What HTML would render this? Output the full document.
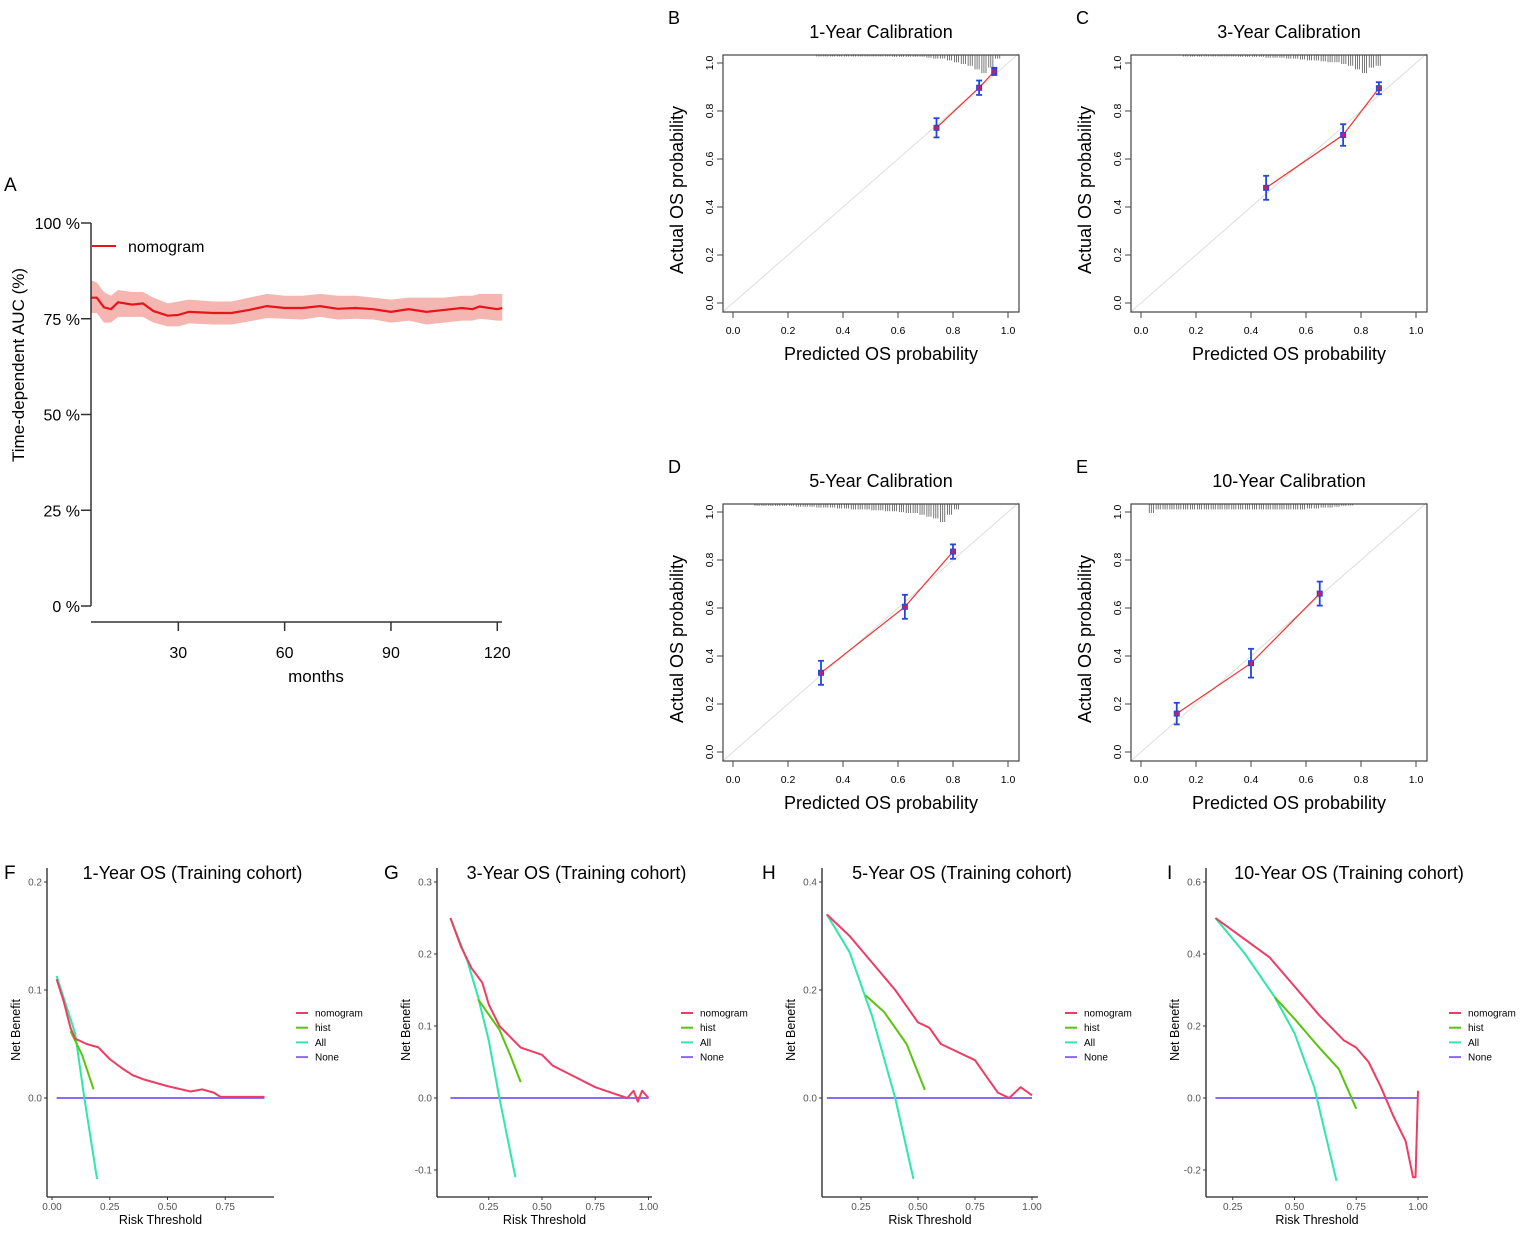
<!DOCTYPE html>
<html><head><meta charset="utf-8"><style>
body{margin:0;background:#fff;}
svg{display:block;font-family:"Liberation Sans",sans-serif;}
</style></head><body>
<svg id="fig" width="1535" height="1237" viewBox="0 0 1535 1237" xmlns="http://www.w3.org/2000/svg">
<rect width="1535" height="1237" fill="#fff"/>
</svg>
<script>
// ---------- Panel A data ----------
const aucMonths=[5.4,7,9,11,13,17,20,23,27,30,33,40,45,50,55,60,65,70,75,80,85,90,95,100,105,110,113,115,120,121.4];
const aucValues=[80.5,80.5,78,77.5,79.3,78.7,79,77,75.8,76,76.8,76.5,76.5,77.3,78.3,77.8,77.8,78.3,77.6,77.8,77.5,76.8,77.5,76.8,77.3,77.8,77.5,78.2,77.5,77.8];
const aucUpper=[85,84.5,82,81,82.5,82,82,80.5,79,79.5,80,79.5,79.5,80.5,81.5,81,81,81.5,81,81,80.5,80,80.5,80.5,80.5,81,81,81.5,81.5,81.5];
const aucLower=[76.5,76.5,74,74,75.5,75.5,75.5,74,73,73,73.8,73.5,73.5,74.3,75.2,75,74.8,75.5,74.8,75,74.8,74,74.5,73.5,74,74.5,74.5,75,74.5,74.5];
const aucYTicks=[0,25,50,75,100];
const aucXTicks=[30,60,90,120];

// ---------- Calibration data ----------
const calPred={B:[0.74,0.895,0.95],C:[0.455,0.735,0.865],D:[0.32,0.625,0.80],E:[0.13,0.40,0.65]};
const calObs={B:[0.73,0.897,0.965],C:[0.48,0.70,0.895],D:[0.33,0.605,0.835],E:[0.16,0.37,0.66]};
const calErr={B:[0.04,0.03,0.015],C:[0.05,0.045,0.025],D:[0.05,0.05,0.03],E:[0.045,0.06,0.05]};
const calTitles={B:"1-Year Calibration",C:"3-Year Calibration",D:"5-Year Calibration",E:"10-Year Calibration"};
const rugB=[0,0,0,0,0,0,0,0,0,0,0,0,0.05,0.05,0.05,0.05,0.05,0.05,0.05,0.05,0.05,0.05,0.05,0.1,0.1,0.1,0.1,0.1,0.15,0.2,0.2,0.3,0.4,0.5,0.6,0.8,1,0.7,0.2,0];
const rugC=[0,0,0,0,0,0,0.05,0.05,0.05,0.05,0.05,0.05,0.05,0.05,0.1,0.1,0.1,0.1,0.15,0.15,0.15,0.2,0.2,0.25,0.3,0.3,0.35,0.4,0.4,0.5,0.6,0.8,1,0.7,0.6,0,0,0,0,0];
const rugD=[0,0,0,0.1,0.1,0.1,0.1,0.1,0.1,0.15,0.15,0.15,0.2,0.2,0.2,0.25,0.25,0.3,0.3,0.3,0.35,0.35,0.4,0.4,0.45,0.5,0.5,0.6,0.7,0.8,1,0.6,0.3,0,0,0,0,0,0,0];
const rugE=[0,0.5,0.3,0.3,0.3,0.3,0.3,0.3,0.3,0.3,0.3,0.3,0.3,0.3,0.3,0.3,0.3,0.3,0.3,0.3,0.3,0.3,0.3,0.3,0.25,0.25,0.2,0.2,0.15,0.1,0.05,0,0,0,0,0,0,0,0,0];
const calTicks=[0,0.2,0.4,0.6,0.8,1.0];

// ---------- DCA data ----------
const dcaF={nom:[[0.02,0.11],[0.05,0.09],[0.08,0.065],[0.1,0.055],[0.15,0.05],[0.2,0.047],[0.25,0.036],[0.3,0.028],[0.35,0.021],[0.4,0.017],[0.5,0.011],[0.6,0.006],[0.65,0.008],[0.7,0.005],[0.73,0.001],[0.92,0.001]],
 hist:[[0.08,0.062],[0.13,0.04],[0.18,0.008]],all:[[0.02,0.113],[0.1,0.06],[0.14,0],[0.195,-0.075]],none:[[0.02,0],[0.92,0]]};
const dcaG={nom:[[0.07,0.25],[0.12,0.21],[0.17,0.18],[0.22,0.16],[0.25,0.13],[0.3,0.1],[0.35,0.085],[0.4,0.07],[0.5,0.06],[0.55,0.045],[0.65,0.03],[0.75,0.015],[0.85,0.005],[0.9,0],[0.93,0.01],[0.95,-0.005],[0.97,0.01],[1.0,0]],
 hist:[[0.2,0.137],[0.3,0.095],[0.35,0.06],[0.4,0.022]],all:[[0.07,0.25],[0.15,0.19],[0.2,0.14],[0.25,0.08],[0.3,0],[0.375,-0.11]],none:[[0.07,0],[1.0,0]]};
const dcaH={nom:[[0.1,0.34],[0.2,0.3],[0.3,0.25],[0.4,0.2],[0.45,0.17],[0.5,0.14],[0.55,0.13],[0.6,0.1],[0.65,0.09],[0.7,0.08],[0.75,0.07],[0.8,0.04],[0.85,0.01],[0.9,0],[0.95,0.02],[1.0,0.005]],
 hist:[[0.27,0.19],[0.35,0.16],[0.45,0.1],[0.53,0.015]],all:[[0.1,0.34],[0.2,0.27],[0.3,0.15],[0.4,0],[0.48,-0.15]],none:[[0.1,0],[1.0,0]]};
const dcaI={nom:[[0.18,0.5],[0.3,0.44],[0.4,0.39],[0.5,0.31],[0.6,0.23],[0.7,0.16],[0.75,0.14],[0.8,0.1],[0.85,0.03],[0.9,-0.05],[0.95,-0.12],[0.98,-0.22],[0.99,-0.22],[1.0,0.02]],
 hist:[[0.42,0.28],[0.5,0.22],[0.6,0.14],[0.68,0.08],[0.75,-0.03]],all:[[0.18,0.5],[0.3,0.4],[0.42,0.28],[0.5,0.18],[0.58,0.03],[0.67,-0.23]],none:[[0.18,0],[1.0,0]]};
const dcaTitles=["1-Year OS (Training cohort)","3-Year OS (Training cohort)","5-Year OS (Training cohort)","10-Year OS (Training cohort)"];
const dcaYTicksF=[0,0.1,0.2], dcaYTicksG=[-0.1,0,0.1,0.2,0.3], dcaYTicksH=[0,0.2,0.4], dcaYTicksI=[-0.2,0,0.2,0.4,0.6];
const dcaXTicksF=[0,0.25,0.5,0.75], dcaXTicksOther=[0.25,0.5,0.75,1.0];
const legendLabels=["nomogram","hist","All","None"];

const NS="http://www.w3.org/2000/svg";
const fig=document.getElementById('fig');
function mk(tag,attrs,parent,text){const e=document.createElementNS(NS,tag);for(const k in attrs)e.setAttribute(k,attrs[k]);if(text!==undefined)e.textContent=text;(parent||fig).appendChild(e);return e;}
function fmt(v,d){return v.toFixed(d);}

// ---------- Panel A ----------
(function(){
 const g=mk('g',{});
 
 
 const X=m=>72+(m)*3.544, Y=v=>606-(v/100)*383;
 let t=mk('text',{x:4,y:191,'font-size':19},g,'A');
 
 let band='M';aucMonths.forEach((m,i)=>band+=(i?'L':'')+X(m)+','+Y(aucUpper[i]));
 for(let i=aucMonths.length-1;i>=0;i--)band+='L'+X(aucMonths[i])+','+Y(aucLower[i]);
 const b=mk('path',{d:band+'Z',fill:'#f5b5b0',stroke:'none'},g);
 
 const ln=mk('polyline',{points:aucMonths.map((m,i)=>X(m)+','+Y(aucValues[i])).join(' '),fill:'none',stroke:'#e8141b','stroke-width':2.2},g);
 
 mk('line',{x1:91,y1:Y(100),x2:91,y2:Y(0),stroke:'#333','stroke-width':1.5},g);
 aucYTicks.forEach(v=>{mk('line',{x1:81,y1:Y(v),x2:91,y2:Y(v),stroke:'#333','stroke-width':1.5},g);
  const tt=mk('text',{x:80,y:Y(v)+6,'font-size':16,'text-anchor':'end'},g,v+' %');
  });
 mk('line',{x1:91,y1:622,x2:502,y2:622,stroke:'#333','stroke-width':1.5},g);
 aucXTicks.forEach(v=>{mk('line',{x1:X(v),y1:622,x2:X(v),y2:631,stroke:'#333','stroke-width':1.5},g);
  const tt=mk('text',{x:X(v),y:658,'font-size':16,'text-anchor':'middle'},g,v);
  });
 t=mk('text',{x:316,y:682,'font-size':17,'text-anchor':'middle'},g,'months');
 
 t=mk('text',{x:0,y:0,'font-size':17,'text-anchor':'middle',transform:'translate(24,365) rotate(-90)'},g,'Time-dependent AUC (%)');
 
 mk('line',{x1:92,y1:246,x2:116,y2:246,stroke:'#e8141b','stroke-width':2},g);
 t=mk('text',{x:128,y:252,'font-size':16},g,'nomogram');
 
})();

// ---------- Calibration panels ----------
function calPanel(key,ox,oy,rug){
 const g=mk('g',{});
 
 
 const X=v=>ox+v*275, Y=v=>oy+303-v*240;
 const L=ox-10,R=ox+286,T=oy+55,B=oy+312;
 let t=mk('text',{x:ox-65,y:oy+24,'font-size':18},g,key);
 
 t=mk('text',{x:ox+148,y:oy+38,'font-size':18,'text-anchor':'middle'},g,calTitles[key]);
 
 mk('line',{x1:X(-0.04),y1:Y(-0.04),x2:X(1.04),y2:Y(1.04),stroke:'#ddd','stroke-width':1},g);
 rug.forEach((h,i)=>{if(h<=0)return;
  [0.2,0.5,0.8].forEach(f=>{const x=X((i+f)/40);
   mk('line',{x1:x,y1:T,x2:x,y2:T+Math.max(1.5,h*18),stroke:'#555','stroke-width':0.8},g);});});
 const p=calPred[key],o=calObs[key],e=calErr[key];
 const pl=mk('polyline',{points:p.map((v,i)=>X(v)+','+Y(o[i])).join(' '),fill:'none',stroke:'#e33','stroke-width':1.2},g);
 
 p.forEach((v,i)=>{const x=X(v);
  mk('line',{x1:x,y1:Y(o[i]-e[i]),x2:x,y2:Y(o[i]+e[i]),stroke:'#2646d8','stroke-width':1.8},g);
  mk('line',{x1:x-3,y1:Y(o[i]-e[i]),x2:x+3,y2:Y(o[i]-e[i]),stroke:'#2646d8','stroke-width':1.8},g);
  mk('line',{x1:x-3,y1:Y(o[i]+e[i]),x2:x+3,y2:Y(o[i]+e[i]),stroke:'#2646d8','stroke-width':1.8},g);
  const c=mk('rect',{x:x-2.5,y:Y(o[i])-2.5,width:5,height:5,fill:'#c0206a',stroke:'#2646d8','stroke-width':1},g);
  });
 mk('rect',{x:L,y:T,width:R-L,height:B-T,fill:'none',stroke:'#444','stroke-width':1.2},g);
 calTicks.forEach(v=>{
  mk('line',{x1:X(v),y1:B,x2:X(v),y2:B+6,stroke:'#444','stroke-width':1},g);
  let tt=mk('text',{x:X(v),y:B+22,'font-size':10.5,'text-anchor':'middle'},g,fmt(v,1));
  
  mk('line',{x1:L,y1:Y(v),x2:L-6,y2:Y(v),stroke:'#444','stroke-width':1},g);
  tt=mk('text',{x:0,y:0,'font-size':10.5,'text-anchor':'middle',transform:'translate('+(L-10)+','+Y(v)+') rotate(-90)'},g,fmt(v,1));
  });
 t=mk('text',{x:ox+148,y:oy+360,'font-size':18,'text-anchor':'middle'},g,'Predicted OS probability');
 
 t=mk('text',{x:0,y:0,'font-size':18,'text-anchor':'middle',transform:'translate('+(ox-50)+','+(oy+190)+') rotate(-90)'},g,'Actual OS probability');
 
}
calPanel('B',733,0,rugB);
calPanel('C',1141,0,rugC);
calPanel('D',733,449,rugD);
calPanel('E',1141,449,rugE);

// ---------- DCA panels ----------
const cols={nom:'#ee3d64',hist:'#5ac40e',all:'#2de8a8',none:'#8a6cf0'};
function dcaPanel(letter,title,data,axX,x0,xs,xmax,y0,ys,yticks,xticks,legX,labX){
 const g=mk('g',{});
 
 
 const X=v=>x0+v*xs, Y=v=>1098-v*ys;
 let t=mk('text',{x:labX,y:879,'font-size':19},g,letter);
 
 t=mk('text',{x:(axX+xmax)/2+32,y:879,'font-size':18,'text-anchor':'middle'},g,title);
 
 ['none','all','hist','nom'].forEach(k=>{
  const pl=mk('polyline',{points:data[k].map(p=>X(p[0])+','+Y(p[1])).join(' '),fill:'none',stroke:cols[k],'stroke-width':2,'stroke-linejoin':'round'},g);
  });
 mk('line',{x1:axX,y1:868,x2:axX,y2:1197,stroke:'#222','stroke-width':1.3},g);
 mk('line',{x1:axX,y1:1197,x2:xmax,y2:1197,stroke:'#222','stroke-width':1.3},g);
 yticks.forEach(v=>{mk('line',{x1:axX-3,y1:Y(v),x2:axX,y2:Y(v),stroke:'#333'},g);
  const tt=mk('text',{x:axX-5,y:Y(v)+3.5,'font-size':10,'fill':'#555','text-anchor':'end'},g,fmt(v,1));
  });
 xticks.forEach(v=>{mk('line',{x1:X(v),y1:1197,x2:X(v),y2:1200,stroke:'#333'},g);
  const tt=mk('text',{x:X(v),y:1210,'font-size':10,'fill':'#555','text-anchor':'middle'},g,fmt(v,2));
  });
 t=mk('text',{x:(axX+xmax)/2,y:1224,'font-size':12.5,'text-anchor':'middle'},g,'Risk Threshold');
 
 t=mk('text',{x:0,y:0,'font-size':12.5,'text-anchor':'middle',transform:'translate('+(axX-27)+',1030) rotate(-90)'},g,'Net Benefit');
 
 ['nom','hist','all','none'].forEach((k,i)=>{const y=1013+i*14.7;
  mk('line',{x1:legX,y1:y,x2:legX+12,y2:y,stroke:cols[k],'stroke-width':2},g);
  const tt=mk('text',{x:legX+19,y:y+3.5,'font-size':10},g,legendLabels[i]);
  });
}
dcaPanel('F',dcaTitles[0],dcaF,47,52,231,274,1098,1080,dcaYTicksF,dcaXTicksF,296,4);
dcaPanel('G',dcaTitles[1],dcaG,437,435.5,213,652,1098,720,dcaYTicksG,dcaXTicksOther,681,384);
dcaPanel('H',dcaTitles[2],dcaH,822,804,228,1038,1098,540,dcaYTicksH,dcaXTicksOther,1065,762);
dcaPanel('I',dcaTitles[3],dcaI,1206,1171,247,1428,1098,360,dcaYTicksI,dcaXTicksOther,1449,1167);
</script>
</body></html>
